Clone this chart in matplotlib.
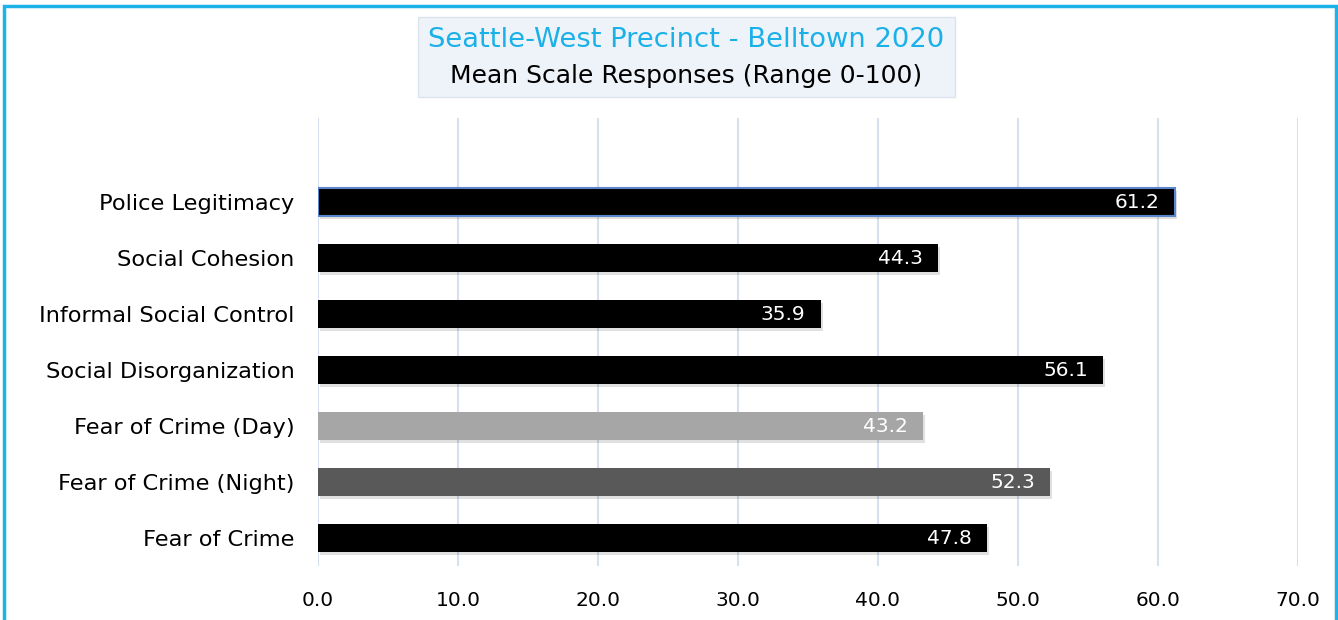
import matplotlib
matplotlib.use("Agg")
import matplotlib.pyplot as plt
from matplotlib.patches import Rectangle
import matplotlib.patheffects as pe

categories = ["Fear of Crime", "Fear of Crime (Night)", "Fear of Crime (Day)",
              "Social Disorganization", "Informal Social Control",
              "Social Cohesion", "Police Legitimacy"]
values = [47.8, 52.3, 43.2, 56.1, 35.9, 44.3, 61.2]
bar_colors = ["#000000", "#595959", "#A6A6A6", "#000000", "#000000", "#000000", "#000000"]
xticks = [0, 10, 20, 30, 40, 50, 60, 70]
title1 = "Seattle-West Precinct - Belltown 2020"
title2 = "Mean Scale Responses (Range 0-100)"

plt.rcParams['font.family'] = ['DejaVu Sans']

W, H = 1338, 620
fig = plt.figure(figsize=(W / 100, H / 100), dpi=100)
ax = fig.add_axes([318 / W, 1 - 566 / H, (1298 - 318) / W, (566 - 118) / H])

ypos = list(range(len(categories)))
bars = ax.barh(ypos, values, height=0.5, color=bar_colors, zorder=3)
for b in bars:
    b.set_path_effects([pe.SimplePatchShadow(offset=(1.5, -2.5), shadow_rgbFace="#000000", alpha=0.12), pe.Normal()])
bars[-1].set_edgecolor("#5B86CC")
bars[-1].set_linewidth(1.5)

for b, v in zip(bars, values):
    ax.annotate(f"{v:.1f}", xy=(v, b.get_y() + b.get_height() / 2), xytext=(-11, 0),
                textcoords="offset points", ha="right", va="center",
                color="white", fontsize=14.5, zorder=4)

ax.set_xlim(0, 70)
ax.set_ylim(-0.5, 7.5)
ax.set_xticks(xticks)
ax.set_xticklabels([f"{t:.1f}" for t in xticks], fontsize=14.5)
ax.set_yticks(ypos)
ax.set_yticklabels(categories, fontsize=16.2)
ax.tick_params(length=0, pad=17, axis="y")
ax.tick_params(length=0, pad=18, axis="x")
ax.xaxis.grid(True, color="#D6E0EE", lw=1.5, zorder=0)
for s in ax.spines.values():
    s.set_visible(False)

# title box
fig.patches.append(Rectangle((418 / W, 1 - 97 / H), (955 - 418) / W, 80 / H,
                             transform=fig.transFigure, facecolor="#EEF3FA",
                             edgecolor="#DCE3EC", lw=1, zorder=1))
fig.text(686 / W, 1 - 40 / H, title1, ha="center", va="center", color="#1AB0E8", fontsize=19.7)
fig.text(686 / W, 1 - 76 / H, title2, ha="center", va="center", color="#000000", fontsize=18)

# outer border
fig.patches.append(Rectangle((4 / W, -0.05), (1336 - 4) / W, (1 - 6 / H) + 0.05,
                             transform=fig.transFigure, facecolor="none",
                             edgecolor="#1CB3E9", lw=2.5, zorder=0))

fig.savefig("out.png", dpi=100)
